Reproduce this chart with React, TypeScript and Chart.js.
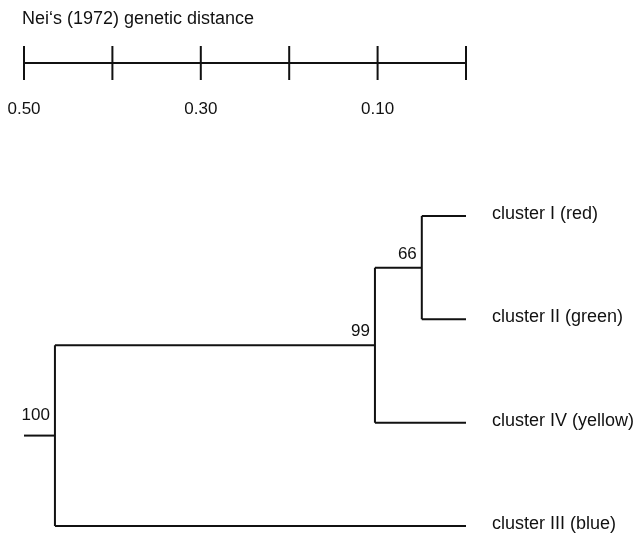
import { useEffect, useRef } from "react";
import { Chart, registerables } from "chart.js";

Chart.register(...registerables);

// ---- data ----
const scaleTitle = "Nei\u2018s (1972) genetic distance";
const scaleTicks = [0.5, 0.4, 0.3, 0.2, 0.1, 0.0];
const scaleTickLabels = ["0.50", "", "0.30", "", "0.10", ""];

const leafNames = ["cluster I (red)", "cluster II (green)", "cluster IV (yellow)", "cluster III (blue)"];

const nodeNames = ["n66", "n99", "root"];
const nodeLeftChild = ["cluster I (red)", "n66", "n99"];
const nodeRightChild = ["cluster II (green)", "cluster IV (yellow)", "cluster III (blue)"];
const nodeHeights = [0.05, 0.103, 0.465];
const bootstrapValues = [66, 99, 100];
const rootStubHeight = 0.5;

// ---- layout helpers (row units) ----
const SCALE_BAR_ROW = -1.48;
const TICK_HALF = 0.165;
const TICK_LABEL_ROW = -1.035;
const TITLE_ROW = -1.858;
const FONT = '"Liberation Sans", Arial, Helvetica, sans-serif';
const INK = "#111111";

type Pt = { x: number; y: number };

function buildTree() {
  const pos: Record<string, Pt> = {};
  leafNames.forEach((n, i) => (pos[n] = { x: 0, y: i }));
  nodeNames.forEach((n, i) => {
    const a = pos[nodeLeftChild[i]];
    const b = pos[nodeRightChild[i]];
    pos[n] = { x: nodeHeights[i], y: (a.y + b.y) / 2 };
  });
  const segs: Pt[][] = [];
  nodeNames.forEach((n, i) => {
    const p = pos[n];
    const a = pos[nodeLeftChild[i]];
    const b = pos[nodeRightChild[i]];
    segs.push([{ x: p.x, y: a.y }, { x: p.x, y: b.y }]);
    segs.push([{ x: p.x, y: a.y }, { x: a.x, y: a.y }]);
    segs.push([{ x: p.x, y: b.y }, { x: b.x, y: b.y }]);
  });
  const root = pos[nodeNames[nodeNames.length - 1]];
  segs.push([{ x: rootStubHeight, y: root.y }, { x: root.x, y: root.y }]);
  // scale bar
  segs.push([
    { x: scaleTicks[0], y: SCALE_BAR_ROW },
    { x: scaleTicks[scaleTicks.length - 1], y: SCALE_BAR_ROW },
  ]);
  scaleTicks.forEach((t) =>
    segs.push([
      { x: t, y: SCALE_BAR_ROW - TICK_HALF },
      { x: t, y: SCALE_BAR_ROW + TICK_HALF },
    ])
  );
  return { pos, segs };
}

export default function App() {
  const ref = useRef<HTMLCanvasElement | null>(null);

  useEffect(() => {
    document.body.style.margin = "0";
    const canvas = ref.current;
    if (!canvas) return;
    const { pos, segs } = buildTree();

    const textPlugin = {
      id: "dendroText",
      afterDatasetsDraw(chart: any) {
        const ctx = chart.ctx as CanvasRenderingContext2D;
        const xs = chart.scales.x;
        const ys = chart.scales.y;
        ctx.save();
        ctx.fillStyle = INK;
        // title
        ctx.font = `18px ${FONT}`;
        ctx.textAlign = "left";
        ctx.textBaseline = "alphabetic";
        ctx.fillText(scaleTitle, xs.getPixelForValue(scaleTicks[0]) - 2, ys.getPixelForValue(TITLE_ROW));
        // tick labels
        ctx.font = `17px ${FONT}`;
        ctx.textAlign = "center";
        ctx.textBaseline = "middle";
        scaleTicks.forEach((t, i) => {
          if (scaleTickLabels[i]) ctx.fillText(scaleTickLabels[i], xs.getPixelForValue(t), ys.getPixelForValue(TICK_LABEL_ROW));
        });
        // leaf labels
        ctx.font = `18px ${FONT}`;
        ctx.textAlign = "left";
        ctx.textBaseline = "middle";
        leafNames.forEach((n) => {
          const p = pos[n];
          ctx.fillText(n, xs.getPixelForValue(p.x) + 26, ys.getPixelForValue(p.y) - 2);
        });
        // bootstrap values
        ctx.font = `17px ${FONT}`;
        ctx.textAlign = "right";
        ctx.textBaseline = "alphabetic";
        nodeNames.forEach((n, i) => {
          const p = pos[n];
          const isRoot = i === nodeNames.length - 1;
          const off = isRoot ? 16 : 9;
          ctx.fillText(String(bootstrapValues[i]), xs.getPixelForValue(p.x) - 5, ys.getPixelForValue(p.y) - off);
        });
        ctx.restore();
      },
    };

    const chart = new Chart(canvas, {
      type: "scatter",
      data: {
        datasets: segs.map((s) => ({
          data: s,
          showLine: true,
          borderColor: INK,
          borderWidth: 2,
          pointRadius: 0,
          pointHoverRadius: 0,
          fill: false,
          tension: 0,
          borderCapStyle: "butt" as const,
        })),
      },
      options: {
        responsive: false,
        animation: false,
        events: [],
        layout: { padding: 0 },
        plugins: {
          legend: { display: false },
          tooltip: { enabled: false },
          title: { display: false },
        },
        scales: {
          x: { type: "linear", display: false, reverse: true, min: -0.19457, max: 0.52715 },
          y: { type: "linear", display: false, reverse: true, min: -2.0903, max: 3.0968 },
        },
      },
      plugins: [textPlugin],
    });
    return () => chart.destroy();
  }, []);

  return (
    <div style={{ width: 638, height: 536, background: "#fff" }}>
      <canvas ref={ref} width={638} height={536} style={{ display: "block" }} />
    </div>
  );
}
